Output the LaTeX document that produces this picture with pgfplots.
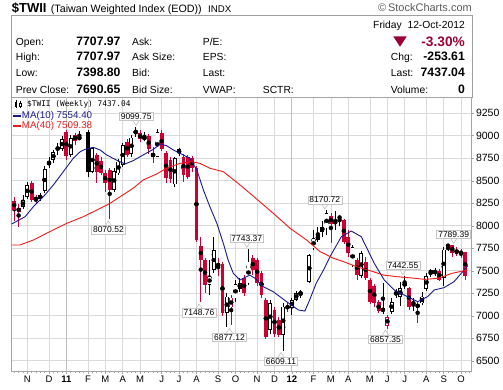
\documentclass[border=0pt]{standalone}
\usepackage{fontspec}
\setmainfont{Liberation Sans}
\newfontfamily\legmono{DejaVu Sans Mono}
\usepackage{pgfplots}
\usepackage{pgfplotstable}
\pgfplotsset{compat=1.18}
\definecolor{cred}{RGB}{204,0,51}
\definecolor{manavy}{RGB}{25,25,140}
\definecolor{mared}{RGB}{240,25,25}
\definecolor{hdrred}{RGB}{153,0,51}
\definecolor{gridc}{RGB}{218,218,218}
\definecolor{framec}{RGB}{165,165,165}

% w = week index (0 = week of 4-Oct-2010); t: 0 black hollow, 1 black filled, 2 red hollow, 3 red filled
\pgfplotstableread{
w O H L C t
1 8280 8320 8050 8180 3
2 8200 8240 7990 8157 3
3 8206 8345 8190 8287 0
4 8324 8490 8300 8454 0
5 8472 8500 8260 8290 3
6 8287 8340 8240 8310 2
7 8342 8360 8280 8300 1
8 8390 8665 8370 8628 0
9 8672 8760 8640 8720 0
10 8731 8840 8700 8817 0
11 8879 8920 8790 8842 1
12 8853 9000 8830 8964 0
13 9042 9060 8735 8772 3
14 8790 9010 8770 8976 0
15 9013 9030 8900 8940 3
16 8960 9050 8950 8990 0
18 9042 9060 8546 8598 1
19 8601 8880 8587 8861 0
20 8787 8810 8476 8601 3
21 8720 8760 8560 8590 3
22 8583 8620 8380 8472 3
23 8620 8640 8070.52 8400 3
24 8398 8640 8380 8609 0
25 8583 8740 8560 8713 0
26 8676 8920 8650 8898 0
27 8935 8960 8760 8787 3
28 8800 9010 8760 8979 0
29 9030 9099.75 8990 9050 0
30 9028 9060 8930 8961 3
31 8965 9040 8940 8985 0
32 8998 9020 8800 8850 3
33 8768 8880 8694 8805 2
34 8770 9080 8760 9040 0
35 9030 9060 8830 8850 3
36 8805 8830 8480 8530 3
37 8731 8760 8480 8520 3
38 8460 8770 8435 8750 0
39 8850 8870 8780 8805 1
40 8768 8800 8490 8564 3
41 8768 8790 8520 8546 3
42 8750 8780 8600 8639 3
43 8639 8660 7820 7842 3
44 7776 7879 7148.76 7620 3
45 7620 7640 7250 7342 3
46 7342 7620 7231 7442 0
47 7509 7879 7480 7731 0
48 7553 7640 7440 7575 2
49 7575 7600 7000 7035 3
50 7035 7250 6877.12 7213 0
51 7094 7230 6896 7202 2
52 7194 7400 7150 7350 0
53 7300 7420 7260 7360 0
54 7417 7450 7220 7250 3
55 7361 7743.37 7340 7602 0
56 7639 7676 7454 7509 3
57 7620 7640 7330 7361 3
58 7472 7500 7200 7231 3
59 7176 7200 6740 6768 3
60 6842 7180 6800 7139 0
61 7065 7100 6760 6800 3
62 6950 6990 6760 6790 3
63 6790 7140 6609.11 7102 0
64 7120 7150 7040 7072 3
65 7090 7200 7009 7176 0
66 7180 7280 7170 7250 0
67 7240 7290 7200 7260 0
69 7380 7690 7370 7676 0
70 7750 7950 7730 7861 0
71 7845 7990 7820 7900 0
72 7935 8050 7880 7990 0
73 7972 8170.72 7900 8139 0
74 8109 8140 7812 8020 3
75 8025 8160 7950 8055 0
76 8110 8125 8000 8075 1
77 8064 8080 7800 7824 3
78 7880 7950 7650 7700 3
79 7560 7790 7540 7760 0
80 7620 7640 7400 7450 3
81 7440 7720 7420 7700 0
82 7600 7650 7400 7420 3
83 7400 7420 7130 7150 3
84 7330 7350 7100 7140 3
85 7150 7180 7030 7050 3
86 7050 7361 7020 7083 0
87 6887 7010 6857.35 6990 2
88 7046 7200 7020 7157 0
89 7268 7300 7200 7231 1
90 7213 7380 7110 7305 0
91 7331 7442.55 7300 7367 0
92 7305 7320 7060 7102 3
93 7120 7200 7050 7157 0
94 7102 7150 6916 7120 2
95 7139 7260 7120 7213 0
96 7300 7480 7280 7440 0
97 7509 7520 7430 7465 1
98 7495 7530 7440 7480 1
99 7502 7520 7390 7398 3
100 7420 7760 7330 7735 0
101 7785 7785 7720 7775 1
102 7787 7789.39 7650 7694 3
103 7731 7760 7660 7700 3
104 7713 7740 7640 7690.65 3
105 7707.97 7707.97 7398.80 7437.04 3
}\candles

\pgfplotstableread{
w ma
0.4 8020
3.5 8101
5.4 8212
7.7 8323
10.0 8453
12.3 8601
14.6 8750
16.2 8823
17.3 8850
19.2 8872
20.8 8842
22.3 8787
24.2 8739
26.5 8687
28.4 8723
30.7 8787
33.1 8850
34.6 8909
36.1 8890
37.7 8842
39.2 8805
41.5 8750
43.1 8620
44.6 8398
46.1 8212
47.7 8028
49.2 7806
50.3 7620
51.5 7472
53.0 7398
55.3 7453
56.5 7417
58.4 7324
60.7 7268
63.8 7157
66.5 7065
68.0 7053
69.1 7176
70.6 7361
72.3 7509
73.8 7657
76.4 7879
78.7 7942
81.0 7879
82.5 7731
84.0 7583
86.3 7398
88.6 7287
90.9 7231
93.2 7176
94.0 7157
96.3 7213
97.8 7287
100.1 7313
102.4 7380
104.7 7509
105.5 7554.40
}\maten

\pgfplotstableread{
w ma
0.4 7787
2.3 7787
5.4 7842
9.2 7935
13.1 8028
16.9 8101
20.8 8194
23.1 8250
25.4 8323
28.4 8417
30.7 8509
33.8 8575
36.1 8639
39.2 8694
41.9 8712
43.8 8694
46.1 8639
49.2 8601
52.6 8472
56.1 8330
60.7 8139
64.6 7972
68.4 7842
71.5 7713
74.6 7639
76.9 7602
79.9 7546
83.0 7502
86.1 7453
89.2 7435
93.4 7417
95.7 7405
98.8 7417
101.9 7472
105.5 7509.38
}\mafourty

\tikzset{lab/.style={draw=gray!45, fill=white, line width=0.5pt,
  font=\fontsize{8.5}{10}\selectfont, inner xsep=1.6pt, inner ysep=1.2pt}}
\newcommand\hilab[3]{%
  \draw[gray!55, line width=0.5pt] ([xshift=-3pt,yshift=6pt]axis cs:#1,#2) -- ([yshift=1.5pt]axis cs:#1,#2) -- ([xshift=3pt,yshift=6pt]axis cs:#1,#2);
  \node[lab, anchor=south] at ([yshift=6pt]axis cs:#1,#2) {#3};}
\newcommand\lolab[3]{%
  \draw[gray!55, line width=0.5pt] ([xshift=-3pt,yshift=-6pt]axis cs:#1,#2) -- ([yshift=-1.5pt]axis cs:#1,#2) -- ([xshift=3pt,yshift=-6pt]axis cs:#1,#2);
  \node[lab, anchor=north] at ([yshift=-6pt]axis cs:#1,#2) {#3};}

\begin{document}
\begin{tikzpicture}
\useasboundingbox (0,0) rectangle (503pt,-390pt);
\begin{scope}[x=1pt,y=-1pt]
  \node[anchor=base west, inner sep=0, font=\fontsize{13}{15}\selectfont\bfseries] at (11.7,12.5) {\$TWII};
  \node[anchor=base west, inner sep=0, font=\fontsize{10.7}{12}\selectfont] at (50.7,12.5) {(Taiwan Weighted Index (EOD))};
  \node[anchor=base west, inner sep=0, font=\fontsize{9.7}{12}\selectfont] at (208,12.5) {INDX};
  \node[anchor=base east, inner sep=0, font=\fontsize{11}{12}\selectfont, text=black!65] at (472,12) {\textcopyright\,StockCharts.com};
  \draw[draw=gray!75, line width=0.8pt] (11.7,15) rectangle (472,97);
  % header rows
  \begin{scope}[every node/.style={inner sep=0, font=\fontsize{10.3}{12}\selectfont}]
    \node[anchor=base east] at (465,28.3) {Friday\ \ 12-Oct-2012};
    \node[anchor=base west] at (15.7,45.7) {Open:};
    \node[anchor=base west] at (15.7,61) {High:};
    \node[anchor=base west] at (15.7,76.7) {Low:};
    \node[anchor=base west] at (15.7,93.3) {Prev Close:};
    \node[anchor=base west] at (132,45.7) {Ask:};
    \node[anchor=base west] at (132,61) {Ask Size:};
    \node[anchor=base west] at (132,76.7) {Bid:};
    \node[anchor=base west] at (132,93.3) {Bid Size:};
    \node[anchor=base west] at (202.7,45.7) {P/E:};
    \node[anchor=base west] at (202.7,61) {EPS:};
    \node[anchor=base west] at (202.7,76.7) {Last:};
    \node[anchor=base west] at (202.7,93.3) {VWAP:};
    \node[anchor=base west] at (262.7,93.3) {SCTR:};
    \node[anchor=base west] at (390.7,61) {Chg:};
    \node[anchor=base west] at (390.7,76.7) {Last:};
    \node[anchor=base west] at (390.7,93.3) {Volume:};
  \end{scope}
  \begin{scope}[every node/.style={inner sep=0, font=\fontsize{12.2}{14}\selectfont\bfseries, anchor=base east}]
    \node at (120.7,45.7) {7707.97};
    \node at (120.7,61) {7707.97};
    \node at (120.7,76.7) {7398.80};
    \node at (120.7,93.3) {7690.65};
    \node at (465,61) {-253.61};
    \node at (465,76.7) {7437.04};
    \node at (465,93.3) {0};
    \node[font=\fontsize{13.7}{15}\selectfont\bfseries, text=hdrred] at (465,46.3) {-3.30\%};
  \end{scope}
  \fill[hdrred] (393.3,36.5) -- (406.7,36.5) -- (400,46.7) -- cycle;
\end{scope}

\begin{axis}[
  at={(11.5pt,-371pt)}, anchor=south west,
  scale only axis, width=459.5pt, height=274pt,
  xmin=0.36, xmax=106.3, ymin=6387, ymax=9431,
  clip mode=individual,
  axis line style={draw=framec, line width=0.8pt},
  xtick={4,9,13,18,22,26,30,35,39,43,48,52,57,61,65,70,74,78,83,87,91,96,100,104},
  xticklabels={N,D,\textbf{11},F,M,A,M,J,J,A,S,O,N,D,\textbf{12},F,M,A,M,J,J,A,S,O},
  minor xtick={1,2,...,106},
  ytick={6500,6750,...,9250},
  xtick pos=left, ytick pos=right, yticklabel pos=right,
  tick align=outside,
  major tick length=2.5pt, minor tick length=2pt,
  tick style={draw=framec, line width=0.6pt},
  grid=major, major grid style={draw=gridc, line width=0.8pt},
  extra x ticks={13,65}, extra x tick labels={},
  extra x tick style={major grid style={draw=black!25, line width=0.9pt}},
  yticklabel style={font=\fontsize{10.5}{12}\selectfont, xshift=-1pt},
  xticklabel style={font=\fontsize{9.5}{11}\selectfont, yshift=1pt},
  /pgf/number format/assume math mode=true,
  /pgf/number format/1000 sep={},
]
% wicks
\addplot[only marks, mark=none, forget plot,
  restrict expr to domain={\thisrow{t}}{0:1},
  error bars/.cd, y dir=both, y explicit, error mark=none,
  error bar style={draw=black, line width=0.8pt}]
  table[x=w, y expr={(\thisrow{H}+\thisrow{L})/2}, y error expr={(\thisrow{H}-\thisrow{L})/2}] {\candles};
\addplot[only marks, mark=none, forget plot,
  restrict expr to domain={\thisrow{t}}{2:3},
  error bars/.cd, y dir=both, y explicit, error mark=none,
  error bar style={draw=cred, line width=0.8pt}]
  table[x=w, y expr={(\thisrow{H}+\thisrow{L})/2}, y error expr={(\thisrow{H}-\thisrow{L})/2}] {\candles};
% bodies
\addplot[only marks, mark=none, forget plot,
  restrict expr to domain={\thisrow{t}}{0:1},
  error bars/.cd, y dir=both, y explicit, error mark=none,
  error bar style={draw=black, line width=3.8pt}]
  table[x=w, y expr={(\thisrow{O}+\thisrow{C})/2}, y error expr={max(abs(\thisrow{O}-\thisrow{C})/2,6)}] {\candles};
\addplot[only marks, mark=none, forget plot,
  restrict expr to domain={\thisrow{t}}{2:3},
  error bars/.cd, y dir=both, y explicit, error mark=none,
  error bar style={draw=cred, line width=3.8pt}]
  table[x=w, y expr={(\thisrow{O}+\thisrow{C})/2}, y error expr={max(abs(\thisrow{O}-\thisrow{C})/2,6)}] {\candles};
% hollow interiors
\addplot[only marks, mark=none, forget plot,
  restrict expr to domain={\thisrow{t}}{0:0},
  error bars/.cd, y dir=both, y explicit, error mark=none,
  error bar style={draw=white, line width=2.2pt}]
  table[x=w, y expr={(\thisrow{O}+\thisrow{C})/2}, y error expr={max(abs(\thisrow{O}-\thisrow{C})/2-9,0)}] {\candles};
\addplot[only marks, mark=none, forget plot,
  restrict expr to domain={\thisrow{t}}{2:2},
  error bars/.cd, y dir=both, y explicit, error mark=none,
  error bar style={draw=white, line width=2.2pt}]
  table[x=w, y expr={(\thisrow{O}+\thisrow{C})/2}, y error expr={max(abs(\thisrow{O}-\thisrow{C})/2-9,0)}] {\candles};
% moving averages
\addplot[manavy, line width=0.9pt, mark=none] table[x=w, y=ma] {\maten};
\addplot[mared, line width=0.9pt, mark=none] table[x=w, y=ma] {\mafourty};
% extreme labels
\hilab{29.1}{9099.75}{9099.75}
\hilab{72.6}{8170.72}{8170.72}
\hilab{54.6}{7743.37}{7743.37}
\hilab{90.6}{7442.55}{7442.55}
\hilab{102.3}{7789.39}{7789.39}
\lolab{22.7}{8070.52}{8070.52}
\lolab{43.6}{7148.76}{7148.76}
\lolab{50.6}{6877.12}{6877.12}
\lolab{62.5}{6609.11}{6609.11}
\lolab{86.6}{6857.35}{6857.35}
\end{axis}

% legend inside chart
\begin{scope}[x=1pt,y=-1pt]
  \draw[black, line width=0.6pt] (16,100.5) -- (16,108.5);
  \fill[black] (15,102) rectangle (17,107);
  \draw[black, line width=0.6pt] (20.3,101.5) -- (20.3,108);
  \draw[black, line width=0.6pt, fill=white] (19.2,103) rectangle (21.4,106.5);
  \node[anchor=west, inner sep=0, font={\legmono\fontsize{7.8}{9}\selectfont}] at (27,104.3) {\$TWII (Weekly) 7437.04};
  \draw[manavy, line width=1.6pt] (13,116) -- (20.5,116);
  \node[anchor=west, inner sep=0, text=manavy, font=\fontsize{9.8}{11}\selectfont] at (21.7,116) {MA(10) 7554.40};
  \draw[mared, line width=1.6pt] (13,126) -- (20.5,126);
  \node[anchor=west, inner sep=0, text=mared, font=\fontsize{9.8}{11}\selectfont] at (21.7,126) {MA(40) 7509.38};
\end{scope}
\end{tikzpicture}
\end{document}
